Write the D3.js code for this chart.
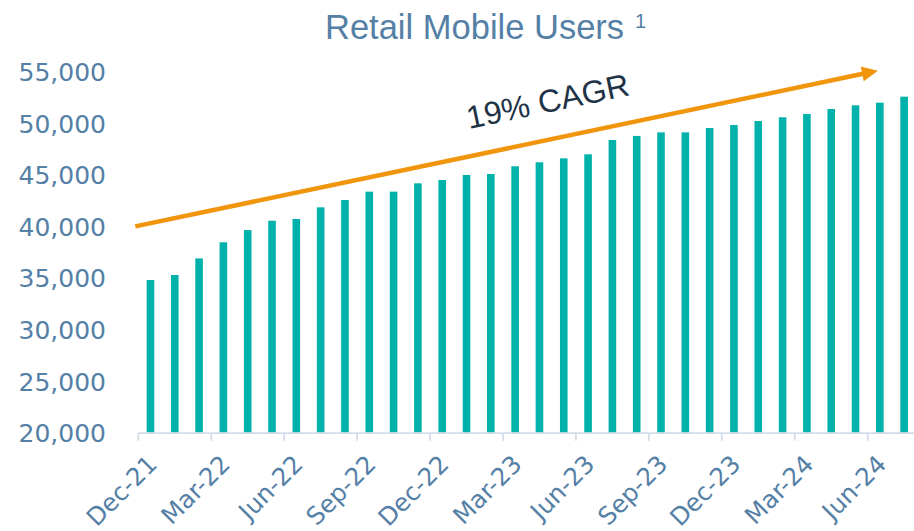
<!DOCTYPE html>
<html>
<head>
<meta charset="utf-8">
<script src="https://cdn.jsdelivr.net/npm/d3@7"></script>
<style>
  html, body { margin: 0; padding: 0; background: #ffffff; }
  svg { display: block; }
</style>
</head>
<body>
<svg id="chart" width="914" height="531"></svg>
<script>
// ---- data ----
const months = [
  "Dec-21","Jan-22","Feb-22","Mar-22","Apr-22","May-22","Jun-22","Jul-22","Aug-22","Sep-22","Oct-22","Nov-22",
  "Dec-22","Jan-23","Feb-23","Mar-23","Apr-23","May-23","Jun-23","Jul-23","Aug-23","Sep-23","Oct-23","Nov-23",
  "Dec-23","Jan-24","Feb-24","Mar-24","Apr-24","May-24","Jun-24","Jul-24"
];
const users = [
  34800, 35290, 36900, 38460, 39650, 40550, 40720, 41850, 42560, 43370, 43370, 44180,
  44500, 44990, 45080, 45830, 46220, 46600, 46990, 48380, 48770, 49120, 49120, 49540,
  49830, 50220, 50580, 50900, 51380, 51740, 52000, 52580
];
const tickLabels = ["Dec-21","Mar-22","Jun-22","Sep-22","Dec-22","Mar-23","Jun-23","Sep-23","Dec-23","Mar-24","Jun-24"];
const yTicks = [20000, 25000, 30000, 35000, 40000, 45000, 50000, 55000];
const titleText = "Retail Mobile Users";
const titleNote = "1";
const cagrText = "19% CAGR";
const trendFrom = 40000;   // value at left end of trend arrow
const trendTo = 55100;     // value at arrow tip

// ---- layout ----
const svg = d3.select("#chart");
const plotLeft = 138.3, plotRight = 916.3, plotTop = 71.7, plotBottom = 432.7;

const x = d3.scaleBand().domain(months).range([plotLeft, plotRight]).padding(0);
const y = d3.scaleLinear().domain([20000, 55000]).range([plotBottom, plotTop]);

const labelColor = "#5580a6";
const barColor = "#00b2a9";

// title
const title = svg.append("text")
  .attr("x", 325).attr("y", 39)
  .attr("text-anchor", "start")
  .attr("font-family", "Liberation Sans, Arial, sans-serif")
  .attr("font-size", 34.5)
  .attr("fill", labelColor);
title.append("tspan").text(titleText);
title.append("tspan").attr("dx", 11).attr("dy", -11).attr("font-size", 20).text(titleNote);

// y axis labels
const yAxis = d3.axisLeft(y).tickValues(yTicks).tickSize(0).tickPadding(0)
  .tickFormat(d3.format(","));
const yG = svg.append("g").attr("transform", "translate(106,0)").call(yAxis);
yG.select(".domain").remove();
yG.selectAll("text")
  .attr("font-family", "DejaVu Sans, sans-serif")
  .attr("font-size", 25)
  .attr("fill", labelColor)
  .attr("dy", "0.36em");

// bars
const barW = 7.6;
svg.append("g").selectAll("rect")
  .data(months.map((m, i) => ({ m, v: users[i] })))
  .join("rect")
  .attr("x", d => x(d.m) + x.bandwidth() / 2 - barW / 2)
  .attr("width", barW)
  .attr("y", d => y(d.v))
  .attr("height", d => y(20000) - y(d.v))
  .attr("fill", barColor);

// x axis
const xAxis = d3.axisBottom(x).tickValues(tickLabels).tickSize(0).tickPadding(0);
const xG = svg.append("g").attr("transform", `translate(0,${plotBottom})`).call(xAxis);
xG.select(".domain").remove();
xG.selectAll(".tick line").remove();
svg.append("line")
  .attr("x1", plotLeft).attr("x2", 914)
  .attr("y1", plotBottom + 0.5).attr("y2", plotBottom + 0.5)
  .attr("stroke", "#d3dde8").attr("stroke-width", 1.8);
svg.append("g").selectAll("line")
  .data(tickLabels)
  .join("line")
  .attr("x1", d => x(d)).attr("x2", d => x(d))
  .attr("y1", plotBottom).attr("y2", plotBottom + 8)
  .attr("stroke", "#d3dde8").attr("stroke-width", 1.8);
xG.selectAll(".tick text")
  .attr("font-family", "DejaVu Sans, sans-serif")
  .attr("font-size", 24.5)
  .attr("fill", labelColor)
  .attr("text-anchor", "end")
  .attr("transform", "translate(2,27) rotate(-45)")
  .attr("y", 0).attr("dy", "0.35em");

// trend arrow
const x0 = plotLeft - 3;
const x1 = x("Jun-24") + x.bandwidth() * 0.42;
const y0 = y(trendFrom), y1 = y(trendTo);
const ang = Math.atan2(y1 - y0, x1 - x0);
const headLen = 16, headHalf = 7.5;
const bx = x1 - headLen * Math.cos(ang), by = y1 - headLen * Math.sin(ang);
svg.append("line")
  .attr("x1", x0).attr("y1", y0).attr("x2", bx + 2 * Math.cos(ang)).attr("y2", by + 2 * Math.sin(ang))
  .attr("stroke", "#f0950c").attr("stroke-width", 4.5);
const px = -Math.sin(ang), py = Math.cos(ang);
svg.append("path")
  .attr("d", `M${x1},${y1} L${bx + px * headHalf},${by + py * headHalf} L${bx - px * headHalf},${by - py * headHalf} Z`)
  .attr("fill", "#f0950c");

// CAGR label
const deg = ang * 180 / Math.PI;
svg.append("text")
  .attr("transform", `translate(469,129) rotate(${deg})`)
  .attr("font-family", "Liberation Sans, Arial, sans-serif")
  .attr("font-size", 32)
  .attr("fill", "#1f3347")
  .text(cagrText);
</script>
</body>
</html>
